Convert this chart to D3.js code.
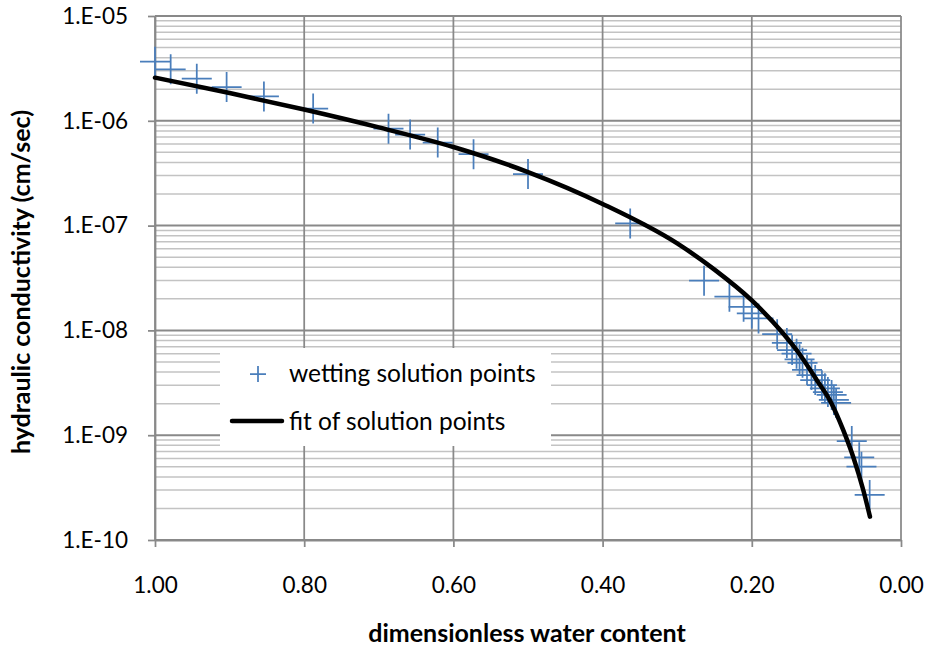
<!DOCTYPE html>
<html>
<head>
<meta charset="utf-8">
<script src="https://cdn.jsdelivr.net/npm/d3@7"></script>
<style>
  html, body { margin: 0; padding: 0; background: #fff; }
  svg { display: block; font-family: Lato, "Noto Sans", sans-serif; }
</style>
</head>
<body>
<svg id="chart" width="927" height="650"></svg>
<script>
// Wetting solution points: dimensionless water content vs hydraulic conductivity (cm/sec)
const pointTheta = [1.00, 0.979, 0.944, 0.904, 0.854, 0.788, 0.687, 0.658, 0.621, 0.573, 0.500,
  0.363, 0.264, 0.230, 0.211, 0.200, 0.191,
  0.166, 0.153, 0.146, 0.140, 0.136, 0.132, 0.126, 0.120, 0.115, 0.106, 0.102, 0.098, 0.093, 0.090, 0.087,
  0.066, 0.056, 0.053, 0.042];
const pointK = [3.66e-6, 3.1e-6, 2.52e-6, 2.1e-6, 1.71e-6, 1.31e-6, 8.4e-7, 7.4e-7, 6.2e-7, 4.8e-7, 3.1e-7,
  1.05e-7, 2.98e-8, 2.1e-8, 1.68e-8, 1.45e-8, 1.3e-8,
  9.2e-9, 7.6e-9, 6.5e-9, 6.0e-9, 5.3e-9, 4.9e-9, 4.2e-9, 3.75e-9, 3.36e-9, 3.0e-9, 2.8e-9, 2.58e-9, 2.42e-9, 2.17e-9, 2.03e-9,
  8.8e-10, 6.15e-10, 5.0e-10, 2.69e-10];

// Fitted curve through the solution points
const fitTheta = [1.00, 0.90, 0.80, 0.70, 0.60, 0.50, 0.40, 0.30, 0.25, 0.20, 0.162, 0.14, 0.113, 0.093, 0.0774, 0.064, 0.0506, 0.0416];
const fitK = [2.58e-6, 1.84e-6, 1.28e-6, 8.65e-7, 5.62e-7, 3.24e-7, 1.61e-7, 6.76e-8, 3.8e-8, 1.93e-8, 1.01e-8, 6.5e-9, 3.37e-9, 2.0e-9, 1.12e-9, 6.2e-10, 3.0e-10, 1.67e-10];

const xTickValues = [1.0, 0.8, 0.6, 0.4, 0.2, 0.0];
const yTickValues = [1e-5, 1e-6, 1e-7, 1e-8, 1e-9, 1e-10];
const yTickLabels = ["1.E-05", "1.E-06", "1.E-07", "1.E-08", "1.E-09", "1.E-10"];

const legendLabels = ["wetting solution points", "fit of solution points"];
const xTitle = "dimensionless water content";
const yTitle = "hydraulic conductivity (cm/sec)";

const svg = d3.select("#chart");
const plotLeft = 155, plotRight = 901, plotTop = 16, plotBottom = 540;

const x = d3.scaleLinear().domain([1, 0]).range([plotLeft, plotRight]);
const y = d3.scaleLog().domain([1e-5, 1e-10]).range([plotTop, plotBottom]);

const majorColor = "#898989", minorColor = "#c3c3c3";

// minor horizontal gridlines (2..9 within each decade)
const minor = [];
for (let e = -10; e < -5; e++) for (let k = 2; k <= 9; k++) minor.push(k * Math.pow(10, e));
svg.append("g").selectAll("line").data(minor).join("line")
  .attr("x1", plotLeft).attr("x2", plotRight)
  .attr("y1", d => y(d)).attr("y2", d => y(d))
  .attr("stroke", minorColor).attr("stroke-width", 1.5);

// major horizontal gridlines
svg.append("g").selectAll("line").data(yTickValues).join("line")
  .attr("x1", plotLeft).attr("x2", plotRight)
  .attr("y1", d => y(d)).attr("y2", d => y(d))
  .attr("stroke", majorColor).attr("stroke-width", 2);

// vertical gridlines
svg.append("g").selectAll("line").data(xTickValues).join("line")
  .attr("x1", d => x(d)).attr("x2", d => x(d))
  .attr("y1", plotTop).attr("y2", plotBottom)
  .attr("stroke", majorColor).attr("stroke-width", 1.75);

// axes
const yAxis = d3.axisLeft(y).tickValues(yTickValues)
  .tickFormat((d, i) => yTickLabels[i]).tickSizeInner(7).tickSizeOuter(0).tickPadding(20);
const gy = svg.append("g").attr("transform", `translate(${plotLeft},0)`).call(yAxis);
const xAxis = d3.axisBottom(x).tickValues(xTickValues)
  .tickFormat(d3.format(".2f")).tickSizeInner(7).tickSizeOuter(0).tickPadding(30);
const gx = svg.append("g").attr("transform", `translate(0,${plotBottom})`).call(xAxis);
[gx, gy].forEach(g => {
  g.select(".domain").attr("stroke", majorColor).attr("stroke-width", 1.75);
  g.selectAll(".tick line").attr("stroke", majorColor).attr("stroke-width", 1.75);
  g.selectAll(".tick text").attr("fill", "#000").attr("font-size", 22.5)
    .attr("font-family", "Lato, 'Noto Sans', sans-serif");
});

// data points as crosses
const pts = pointTheta.map((t, i) => ({ t, k: pointK[i] }));
const arm = 15;
svg.append("g").selectAll("path").data(pts).join("path")
  .attr("d", d => {
    const cx = x(d.t), cy = y(d.k);
    return `M${cx - arm},${cy}H${cx + arm}M${cx},${cy - arm}V${cy + arm}`;
  })
  .attr("stroke", "#4a7ebb").attr("stroke-width", 1.75).attr("fill", "none");

// fit curve
const fit = fitTheta.map((t, i) => ({ t, k: fitK[i] }));
const line = d3.line().x(d => x(d.t)).y(d => y(d.k)).curve(d3.curveMonotoneX);
svg.append("path").datum(fit).attr("d", line)
  .attr("fill", "none").attr("stroke", "#000").attr("stroke-width", 4.5)
  .attr("stroke-linecap", "round").attr("stroke-linejoin", "round");

// legend
const lg = svg.append("g");
lg.append("rect").attr("x", 220).attr("y", 348).attr("width", 331).attr("height", 98).attr("fill", "#fff");
lg.append("path").attr("d", "M250,374H266M258,366V382")
  .attr("stroke", "#4a7ebb").attr("stroke-width", 1.75);
lg.append("line").attr("x1", 232).attr("x2", 282).attr("y1", 421).attr("y2", 421)
  .attr("stroke", "#000").attr("stroke-width", 4.5).attr("stroke-linecap", "round");
lg.selectAll("text").data(legendLabels).join("text")
  .attr("x", 289).attr("y", (d, i) => 382 + i * 48)
  .attr("font-size", 24.5).attr("fill", "#000").text(d => d);

// axis titles
svg.append("text").attr("x", 527).attr("y", 642)
  .attr("text-anchor", "middle").attr("font-weight", "bold").attr("font-size", 25).text(xTitle);
svg.append("text").attr("transform", `translate(30,282) rotate(-90)`)
  .attr("text-anchor", "middle").attr("font-weight", "bold").attr("font-size", 25).text(yTitle);
</script>
</body>
</html>
